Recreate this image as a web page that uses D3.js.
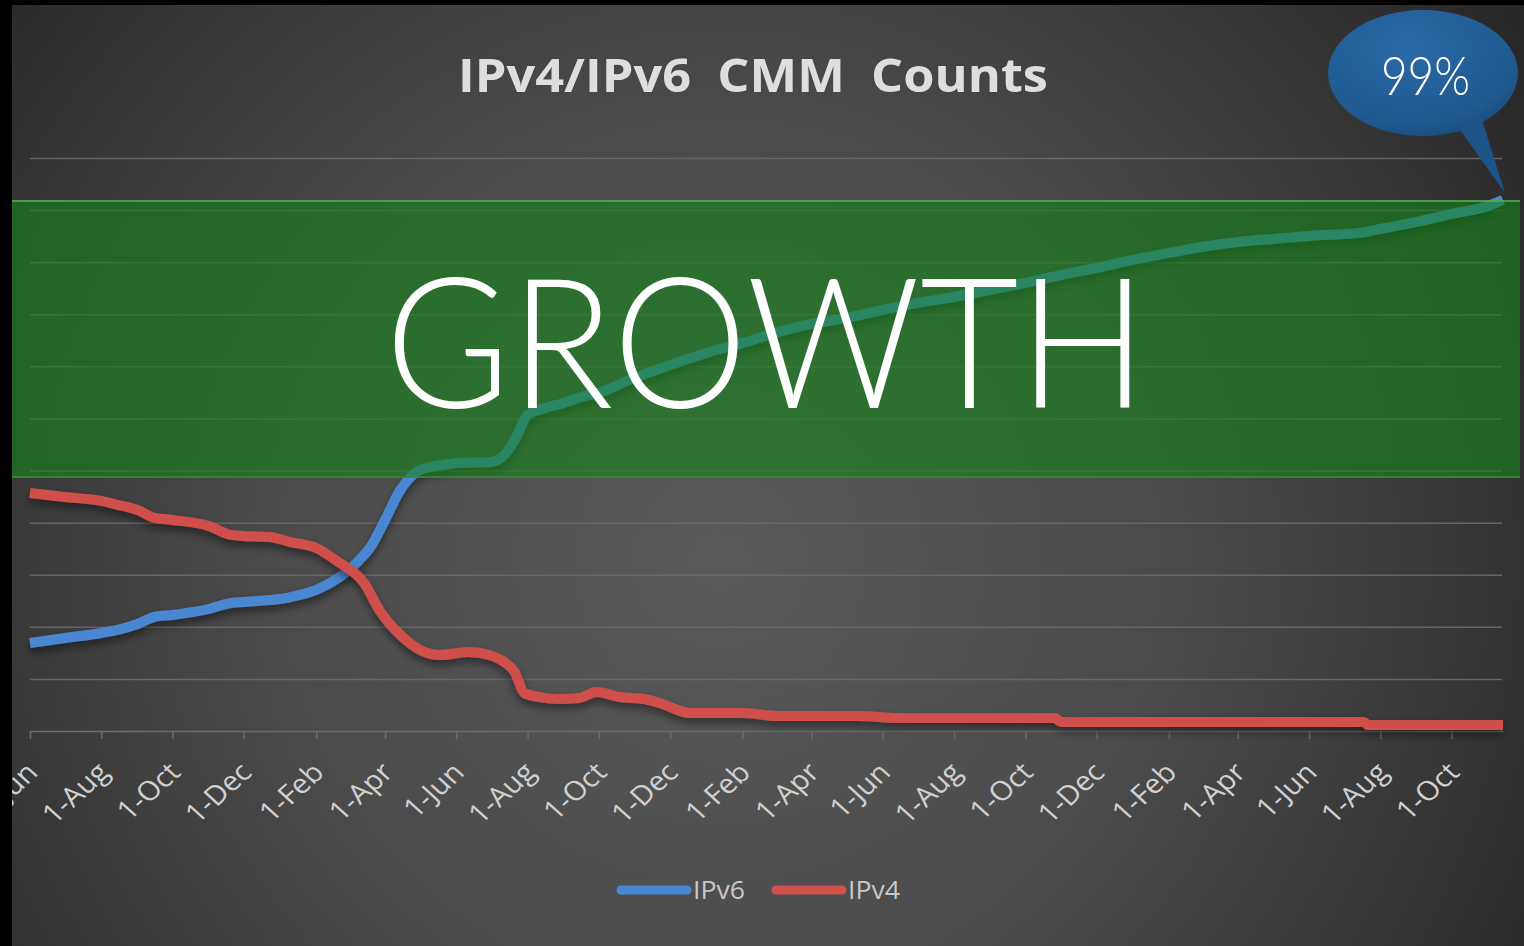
<!DOCTYPE html>
<html>
<head>
<meta charset="utf-8">
<script src="https://cdn.jsdelivr.net/npm/d3@7"></script>
<style>
  html, body { margin: 0; padding: 0; background: #000; }
  svg { display: block; }
</style>
</head>
<body>
<div id="chart"></div>
<script>
// values (counts, one grid step = 500)
const ipv6Dates = ["2012-06-01","2012-07-01","2012-08-01","2012-08-15","2012-09-01","2012-09-15","2012-10-01","2012-11-01","2012-11-20","2012-12-01","2012-12-23","2013-01-01","2013-01-10","2013-02-01","2013-02-20","2013-03-01","2013-03-10","2013-03-19","2013-04-01","2013-04-14","2013-04-22","2013-05-01","2013-05-26","2013-06-01","2013-06-30","2013-07-12","2013-07-21","2013-08-01","2013-08-11","2013-09-01","2013-09-16","2013-10-01","2013-10-27","2013-12-01","2014-01-01","2014-02-01","2014-03-01","2014-04-01","2014-05-01","2014-06-01","2014-07-01","2014-08-01","2014-09-01","2014-10-01","2014-11-01","2014-12-01","2015-01-01","2015-02-01","2015-03-01","2015-04-01","2015-05-01","2015-06-01","2015-07-01","2015-07-14","2015-08-01","2015-09-01","2015-10-01","2015-11-01","2015-11-14"];
const ipv6Values = [845,893,941,970,1027,1094,1114,1171,1229,1238,1258,1267,1286,1354,1469,1546,1642,1757,2026,2314,2429,2506,2563,2573,2582,2650,2794,3034,3082,3149,3206,3245,3370,3514,3629,3725,3821,3907,3965,4042,4109,4166,4234,4301,4378,4445,4522,4589,4646,4694,4723,4752,4771,4781,4819,4886,4963,5040,5098];

const ipv4Dates = ["2012-06-01","2012-07-01","2012-08-01","2012-08-12","2012-09-01","2012-09-16","2012-10-01","2012-11-01","2012-11-20","2012-12-01","2012-12-23","2013-01-10","2013-02-01","2013-02-20","2013-03-14","2013-03-27","2013-04-14","2013-05-01","2013-05-18","2013-06-12","2013-06-29","2013-07-12","2013-07-21","2013-07-29","2013-08-11","2013-08-28","2013-09-14","2013-09-29","2013-10-19","2013-11-09","2013-11-22","2013-12-18","2014-02-01","2014-03-04","2014-05-12","2014-06-14","2014-10-26","2014-11-01","2015-07-18","2015-07-21","2015-11-14"];
const ipv4Values = [2285,2246,2208,2179,2122,2045,2026,1968,1882,1872,1862,1814,1757,1622,1421,1162,922,778,730,758,730,662,566,365,326,307,317,374,326,307,269,173,173,144,144,125,125,86,86,58,58];

const seriesNames = ["IPv6", "IPv4"];
const seriesColors = ["#4a87d2", "#d0504b"];
const axisStart = "2012-06-01";
const axisEnd = "2015-11-14";
const gridStep = 500;
const gridMax = 5500;

const titleText = "IPv4/IPv6  CMM  Counts";
const bannerText = "GROWTH";
const bubbleText = "99%";

const W = 1524, H = 946;
const parse = d3.timeParse("%Y-%m-%d");

const svg = d3.select("#chart").append("svg")
    .attr("width", W)
    .attr("height", H);

const defs = svg.append("defs");

const bg = defs.append("radialGradient")
    .attr("id", "bg")
    .attr("gradientUnits", "userSpaceOnUse")
    .attr("cx", 720).attr("cy", 560).attr("r", 980);
bg.append("stop").attr("offset", "0").attr("stop-color", "#5a5a5a");
bg.append("stop").attr("offset", "0.45").attr("stop-color", "#4b4b4b");
bg.append("stop").attr("offset", "0.8").attr("stop-color", "#343434");
bg.append("stop").attr("offset", "1").attr("stop-color", "#252525");

const bub = defs.append("radialGradient")
    .attr("id", "bub")
    .attr("cx", "0.42").attr("cy", "0.3").attr("r", "0.75");
bub.append("stop").attr("offset", "0").attr("stop-color", "#2a6aa6");
bub.append("stop").attr("offset", "0.8").attr("stop-color", "#1f5990");
bub.append("stop").attr("offset", "1").attr("stop-color", "#174a7a");

defs.append("filter").attr("id", "shadow")
    .attr("x", "-5%").attr("y", "-20%").attr("width", "110%").attr("height", "140%")
    .append("feDropShadow")
    .attr("dx", 0).attr("dy", 5).attr("stdDeviation", 4)
    .attr("flood-color", "#000").attr("flood-opacity", 0.45);

svg.append("rect").attr("width", W).attr("height", H).attr("fill", "url(#bg)");

// scales
const x = d3.scaleTime()
    .domain([parse(axisStart), parse(axisEnd)])
    .range([30, 1503]);

const y = d3.scaleLinear()
    .domain([0, gridMax])
    .range([731, 158]);

// gridlines
svg.append("g")
    .attr("transform", "translate(30,0)")
    .call(d3.axisLeft(y).tickValues(d3.range(gridStep, gridMax + 1, gridStep)).tickSize(-1472).tickFormat(""))
    .call(g => g.select(".domain").remove())
    .call(g => g.selectAll("line").attr("stroke", "#6c6c6c").attr("stroke-width", 1.5).attr("opacity", 0.85));

// x axis
const monthTicks = d3.timeMonth.range(parse(axisStart), parse(axisEnd), 2);
const xAxis = svg.append("g")
    .attr("transform", "translate(0,731)")
    .call(d3.axisBottom(x).tickValues(monthTicks).tickFormat(d3.timeFormat("%-d-%b")).tickSize(8).tickSizeOuter(0));
xAxis.select(".domain").attr("stroke", "#6c6c6c").attr("stroke-width", 1.5);
xAxis.selectAll(".tick line").attr("stroke", "#6c6c6c").attr("stroke-width", 1.5);
xAxis.selectAll(".tick text")
    .attr("x", null).attr("y", null).attr("dy", null)
    .attr("text-anchor", "end")
    .attr("transform", "translate(9,43) scale(1.1,1) rotate(-45)")
    .attr("fill", "#d0d0d0")
    .style("font-family", "'Open Sans', sans-serif")
    .style("font-size", "27px");

// series lines
const line = d3.line()
    .x(d => x(d[0]))
    .y(d => y(d[1]))
    .curve(d3.curveMonotoneX);

const ipv6 = ipv6Dates.map((d, i) => [parse(d), ipv6Values[i]]);
const ipv4 = ipv4Dates.map((d, i) => [parse(d), ipv4Values[i]]);

[ipv6, ipv4].forEach((s, i) => {
    svg.append("path")
        .datum(s)
        .attr("d", line)
        .attr("fill", "none")
        .attr("stroke", seriesColors[i])
        .attr("stroke-width", 10)
        .attr("stroke-linejoin", "round")
        .attr("filter", "url(#shadow)");
});

// chart title
svg.append("text")
    .attr("x", 458)
    .attr("y", 92)
    .attr("textLength", 590)
    .attr("lengthAdjust", "spacingAndGlyphs")
    .attr("fill", "#dedede")
    .style("font-family", "'Open Sans', sans-serif")
    .style("font-weight", "bold")
    .style("font-size", "47px")
    .style("white-space", "pre")
    .text(titleText);

// legend
const legend = svg.append("g").attr("transform", "translate(617,890)");
const legendX = [0, 155];
seriesNames.forEach((name, i) => {
    legend.append("line")
        .attr("x1", legendX[i] + 4).attr("x2", legendX[i] + 70)
        .attr("y1", 0).attr("y2", 0)
        .attr("stroke", seriesColors[i])
        .attr("stroke-width", 9)
        .attr("stroke-linecap", "round");
    legend.append("text")
        .attr("x", legendX[i] + 76)
        .attr("y", 9)
        .attr("textLength", 52)
        .attr("lengthAdjust", "spacingAndGlyphs")
        .attr("fill", "#c8c8c8")
        .style("font-family", "'Open Sans', sans-serif")
        .style("font-size", "25px")
        .text(name);
});

// green banner over the chart
svg.append("rect")
    .attr("x", 12).attr("y", 200)
    .attr("width", 1508).attr("height", 278)
    .attr("fill", "rgb(22,131,25)")
    .attr("fill-opacity", 0.6);
svg.append("line")
    .attr("x1", 12).attr("x2", 1520).attr("y1", 201).attr("y2", 201)
    .attr("stroke", "#5aa85a").attr("stroke-width", 2).attr("opacity", 0.8);
svg.append("line")
    .attr("x1", 12).attr("x2", 1520).attr("y1", 477).attr("y2", 477)
    .attr("stroke", "#3f8a40").attr("stroke-width", 2).attr("opacity", 0.7);

svg.append("text")
    .attr("x", 385)
    .attr("y", 408)
    .attr("textLength", 762)
    .attr("lengthAdjust", "spacingAndGlyphs")
    .attr("fill", "#ffffff")
    .style("font-family", "Lato, sans-serif")
    .style("font-weight", 300)
    .style("font-size", "181px")
    .text(bannerText);

// speech bubble
const bubble = svg.append("g");
bubble.append("ellipse")
    .attr("cx", 1423).attr("cy", 73)
    .attr("rx", 95).attr("ry", 63)
    .attr("fill", "url(#bub)");
bubble.append("path")
    .attr("d", "M1458,127 L1505,193 L1482,120 Z")
    .attr("fill", "#1d5488");
bubble.append("text")
    .attr("x", 1381)
    .attr("y", 95)
    .attr("textLength", 89)
    .attr("lengthAdjust", "spacingAndGlyphs")
    .attr("fill", "#ffffff")
    .style("font-family", "Lato, sans-serif")
    .style("font-weight", 300)
    .style("font-size", "53px")
    .text(bubbleText);

// slide frame edges
svg.append("rect").attr("x", 0).attr("y", 0).attr("width", 12).attr("height", H).attr("fill", "#000");
svg.append("rect").attr("x", 0).attr("y", 0).attr("width", W).attr("height", 5).attr("fill", "#000");
</script>
</body>
</html>
